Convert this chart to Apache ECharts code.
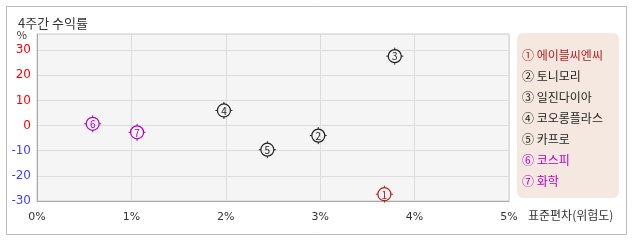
<!DOCTYPE html>
<html><head><meta charset="utf-8">
<script src="https://cdn.jsdelivr.net/npm/echarts@6/dist/echarts.min.js"></script>
<style>html,body{margin:0;padding:0;background:#fff}#c{width:638px;height:242px}</style>
</head><body><div id="c"></div>
<script>
const marks = ['①','②','③','④','⑤','⑥','⑦'];
const digits = ['1','2','3','4','5','6','7'];
const names = ['에이블씨엔씨','토니모리','일진다이아','코오롱플라스','카프로','코스피','화학'];
const stdDev = [3.68, 2.98, 3.79, 1.98, 2.44, 0.59, 1.06];
const returns = [-27.3, -4.0, 27.6, 6.0, -9.6, 0.7, -2.7];
const xTicks = [0, 1, 2, 3, 4, 5];
const yTicks = [-30, -20, -10, 0, 10, 20, 30];
const colors = ['#b22020','#222222','#222222','#222222','#222222','#b000c0','#b000c0'];

const FONT = '"Noto Sans CJK KR", "Noto Sans", sans-serif';

function renderMark(idx) {
  return function (params, api) {
    const p = api.coord([api.value(0), api.value(1)]);
    const c = colors[idx];
    const r = 6.5;
    const children = [
      {type:'circle', shape:{cx:p[0], cy:p[1], r:r}, style:{fill:'none', stroke:c, lineWidth:1.2}},
      {type:'line', shape:{x1:p[0], y1:p[1]-r, x2:p[0], y2:p[1]-r-2}, style:{stroke:c, lineWidth:1}},
      {type:'line', shape:{x1:p[0], y1:p[1]+r, x2:p[0], y2:p[1]+r+2}, style:{stroke:c, lineWidth:1}},
      {type:'line', shape:{x1:p[0]-r, y1:p[1], x2:p[0]-r-2, y2:p[1]}, style:{stroke:c, lineWidth:1}},
      {type:'line', shape:{x1:p[0]+r, y1:p[1], x2:p[0]+r+2, y2:p[1]}, style:{stroke:c, lineWidth:1}},
      {type:'text', style:{x:p[0], y:p[1]+0.5, text:digits[idx], fill:c, font:'10px ' + FONT, align:'center', verticalAlign:'middle'}}
    ];
    return {type:'group', children};
  };
}

const series = names.map((n, i) => ({
  type: 'custom',
  name: marks[i] + ' ' + n,
  renderItem: renderMark(i),
  data: [[stdDev[i], returns[i]]],
  encode: {x: 0, y: 1},
  itemStyle: {color: colors[i]},
  z: 5
}));

const chart = echarts.init(document.getElementById('c'), null, {renderer:'canvas'});
chart.setOption({
  animation: false,
  textStyle: {fontFamily: FONT},
  title: {text: '4주간 수익률', left: 13, top: 12, textStyle: {fontSize: 13, fontWeight: 'normal', color: '#333', fontFamily: FONT}},
  graphic: [
    {type:'rect', shape:{x:6.5, y:6.5, width:620, height:228}, style:{fill:'none', stroke:'#bbbbbb', lineWidth:1}, z:-10},
    {type:'rect', shape:{x:517, y:33, width:102, height:165, r:6}, style:{fill:'#f5e8e0'}, z:-5},
    {type:'text', left: 528, top: 209, style:{text:'표준편차(위험도)', fill:'#333', font:'12px ' + FONT}}
  ],
  legend: {
    orient: 'vertical', left: 517, top: 48, padding: 0,
    itemWidth: 0, itemHeight: 14, itemGap: 7,
    icon: 'rect', itemStyle: {opacity: 0},
    selectedMode: false,
    textStyle: {fontSize: 12, fontFamily: FONT},
    data: names.map((n, i) => ({name: marks[i] + ' ' + n, textStyle: {color: colors[i]}}))
  },
  grid: {left: 37, top: 34, right: 129, bottom: 41, show: true, backgroundColor: '#f5f5f5', borderColor: '#cccccc', borderWidth: 1},
  xAxis: {
    type: 'value', min: xTicks[0], max: xTicks[xTicks.length - 1], interval: 1,
    axisLine: {onZero: false, lineStyle: {color: '#aaaaaa'}},
    axisTick: {show: false},
    axisLabel: {margin: 11, fontSize: 11, color: '#333', fontFamily: 'DejaVu Sans', formatter: v => xTicks.includes(v) ? v + '%' : ''},
    splitLine: {show: true, lineStyle: {color: '#dddddd'}}
  },
  yAxis: {
    type: 'value', min: yTicks[0], max: 36.4, interval: 10,
    name: '%', nameLocation: 'end', nameGap: -1,
    nameTextStyle: {fontSize: 11, color: '#333', align: 'right', verticalAlign: 'middle', padding: [0, 10, 0, 0]},
    axisLine: {show: true, onZero: false, lineStyle: {color: '#aaaaaa'}},
    axisTick: {show: false},
    axisLabel: {margin: 6, fontSize: 12, fontFamily: 'DejaVu Sans',
      formatter: v => yTicks.includes(v) ? String(v) : '',
      color: v => (Number(v) >= 0 ? '#ff0000' : '#4040ff')},
    splitLine: {show: true, lineStyle: {color: '#dddddd'}}
  },
  series
});
</script></body></html>
